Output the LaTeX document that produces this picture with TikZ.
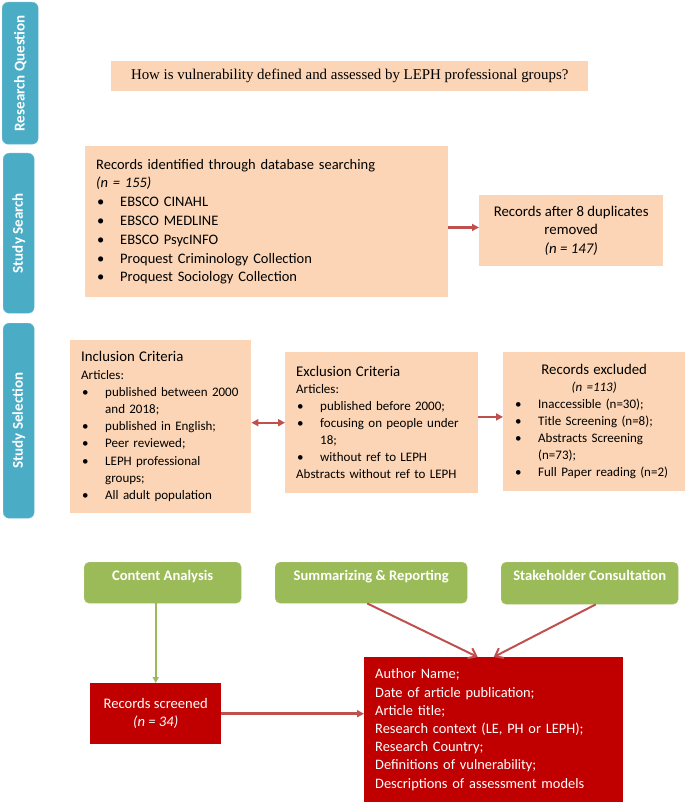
\documentclass[tikz,border=0pt]{standalone}
\usepackage{fontspec}
\setmainfont{Carlito}
\newfontfamily\qserif{Liberation Serif}
\usetikzlibrary{arrows.meta}
\definecolor{teal}{RGB}{75,172,198}
\definecolor{peach}{RGB}{251,213,181}
\definecolor{grn}{RGB}{155,187,89}
\definecolor{dred}{RGB}{192,0,0}
\definecolor{arred}{RGB}{192,80,77}
\newcommand{\bul}{\makebox[24pt][l]{\hspace*{1pt}\textbullet}}
\newcommand{\cont}{\hspace*{24pt}}
\tikzset{
  sidebar/.style={draw=teal!80!white, fill=teal, rounded corners=6pt, anchor=north west, inner sep=0pt},
  sidetext/.style={text=white, font=\fontsize{15}{17}\selectfont\bfseries, rotate=90},
  pbox/.style={fill=peach, anchor=north west, inner xsep=11pt, inner ysep=0pt, align=left},
  gbox/.style={fill=grn, draw=grn!85!white, rounded corners=5pt, anchor=north west, inner sep=0pt,
     text=white, font=\fontsize{14.6}{16}\selectfont\bfseries, text height=9pt, text depth=14pt},
  rbox/.style={fill=dred, anchor=north west, inner xsep=11pt, inner ysep=0pt, text=white},
  arr/.style={draw=arred, line width=2.2pt, -{Triangle[length=7pt,width=7pt]}},
  darr/.style={draw=arred, line width=2.2pt, {Triangle[length=7pt,width=7pt]}-{Triangle[length=7pt,width=7pt]}},
  varr/.style={draw=arred, line width=2pt, -{Straight Barb[length=7pt,width=11pt]}},
  garr/.style={draw=grn, line width=1.8pt, -{Triangle[length=6pt,width=6pt]}},
}
\begin{document}
\begin{tikzpicture}[x=1pt,y=1pt]
\useasboundingbox (0,0) rectangle (685,-802);
% side bars
\node[sidebar, minimum width=36pt, minimum height=142pt] (rq) at (2,-2) {};
\node[sidetext] at (rq.center) {Research Question};
\node[sidebar, minimum width=31pt, minimum height=160pt] (ss) at (3,-153) {};
\node[sidetext] at (ss.center) {Study Search};
\node[sidebar, minimum width=31pt, minimum height=195pt] (sl) at (3,-323) {};
\node[sidetext] at (sl.center) {Study Selection};
% question
\node[pbox, minimum width=477pt, minimum height=30pt, align=center] (q) at (111,-61)
  {\qserif\fontsize{14.9}{16}\selectfont How is vulnerability defined and assessed by LEPH professional groups?};
% records identified
\node[pbox, minimum width=363pt, minimum height=151pt, text width=341pt,
  font=\fontsize{14.5}{18.8}\selectfont] (rid) at (85,-146)
  {Records identified through database searching\\
   \textit{(n = 155)}\\
   \bul EBSCO CINAHL\\
   \bul EBSCO MEDLINE\\
   \bul EBSCO PsycINFO\\
   \bul Proquest Criminology Collection\\
   \bul Proquest Sociology Collection};
\node[pbox, minimum width=184pt, minimum height=71pt, align=center,
  font=\fontsize{14.8}{18.5}\selectfont] (rafter) at (479,-195)
  {Records after 8 duplicates\\ removed\\ \textit{(n = 147)}};
\draw[arr] (rid.east |- rafter.178) -- (rafter.178);
% selection
\node[pbox, minimum width=181pt, minimum height=173pt, text width=159pt,
  font=\fontsize{13}{17.2}\selectfont] (inc) at (70,-340)
  {{\fontsize{14.8}{17}\selectfont Inclusion Criteria}\\
   Articles:\\
   \bul published between 2000\\
   \cont and 2018;\\
   \bul published in English;\\
   \bul Peer reviewed;\\
   \bul LEPH professional\\
   \cont groups;\\
   \bul All adult population};
\node[pbox, minimum width=193pt, minimum height=141pt, text width=171pt,
  font=\fontsize{13}{17}\selectfont] (exc) at (285,-352)
  {{\fontsize{14.8}{17}\selectfont Exclusion Criteria}\\
   Articles:\\
   \bul published before 2000;\\
   \bul focusing on people under\\
   \cont 18;\\
   \bul without ref to LEPH\\
   Abstracts without ref to LEPH};
\node[pbox, minimum width=182pt, minimum height=139pt, text width=160pt,
  font=\fontsize{13}{17}\selectfont] (rexc) at (503,-352)
  {\makebox[160pt][c]{\fontsize{14.8}{17}\selectfont Records excluded}\\
   \makebox[160pt][c]{\textit{(n =113)}}\\
   \bul Inaccessible (n=30);\\
   \bul Title Screening (n=8);\\
   \bul Abstracts Screening\\
   \cont (n=73);\\
   \bul Full Paper reading (n=2)};
\draw[darr] (inc.east |- exc.west) -- (exc.west);
\draw[arr] (exc.east |- rexc.177.5) -- (rexc.177.5);
% analysis
\node[gbox, minimum width=157pt, minimum height=41pt] (ca) at (84,-562) {Content Analysis};
\node[gbox, minimum width=192pt, minimum height=41pt] (sr) at (275,-562) {Summarizing \& Reporting};
\node[gbox, minimum width=177pt, minimum height=42pt] (sc) at (501,-562) {Stakeholder Consultation};
\node[rbox, minimum width=131pt, minimum height=61pt, align=center,
  font=\fontsize{14.6}{18}\selectfont] (rs) at (90,-683)
  {Records screened\\ \textit{(n = 34)}};
\node[rbox, minimum width=259pt, minimum height=145pt, text width=237pt, align=left,
  font=\fontsize{14.4}{18.2}\selectfont] (big) at (364,-657)
  {Author Name;\\
   Date of article publication;\\
   Article title;\\
   Research context (LE, PH or LEPH);\\
   Research Country;\\
   Definitions of vulnerability;\\
   Descriptions of assessment models};
\draw[garr] (ca.south -| rs.north) -- (rs.north);
\draw[arr, line width=3pt] (rs.east) -- (big.west |- rs.east);
\draw[varr] ([xshift=-4pt]sr.south) -- ([xshift=-16pt]big.north);
\draw[varr] ([xshift=6pt]sc.south) -- ([xshift=0pt]big.north);
\end{tikzpicture}
\end{document}
